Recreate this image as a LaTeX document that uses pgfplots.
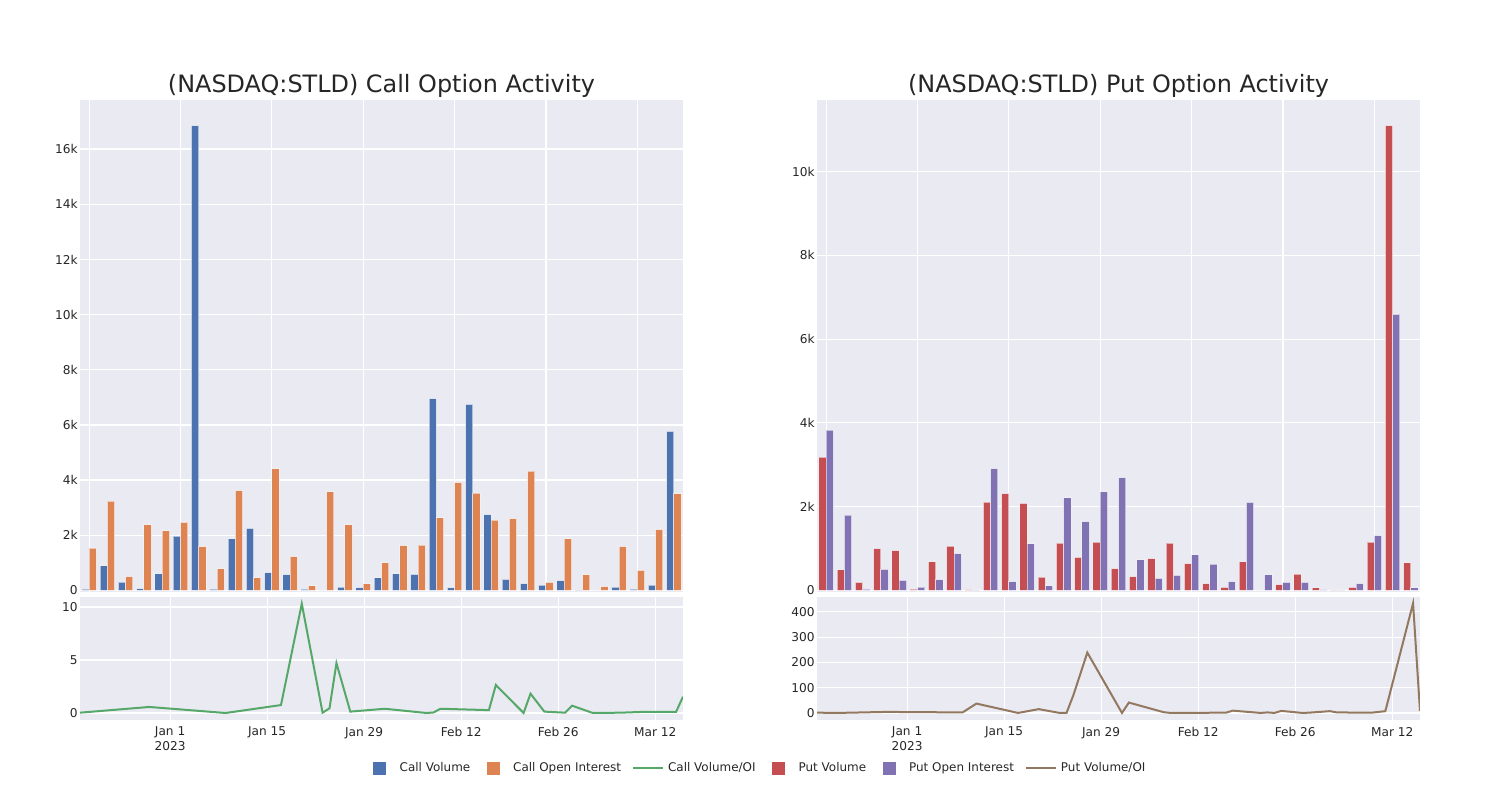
\documentclass[border=0pt]{standalone}
\usepackage{fontspec}
\setmainfont{DejaVu Sans}
\usepackage{pgfplots}
\pgfplotsset{compat=1.18}
\usepackage{pgfplotstable}

\definecolor{bgc}{HTML}{EAEAF2}
\definecolor{txt}{HTML}{262626}
\definecolor{cblue}{HTML}{4C72B0}
\definecolor{corange}{HTML}{DD8452}
\definecolor{cgreen}{HTML}{55A868}
\definecolor{cred}{HTML}{C44E52}
\definecolor{cpurple}{HTML}{8172B3}
\definecolor{cbrown}{HTML}{937860}

% bars: category index, volume, open interest
\pgfplotstableread{
cat vol oi
0 50 1530
1 890 3240
2 300 500
3 60 2380
4 600 2160
5 1970 2470
6 16850 1590
7 50 780
8 1870 3620
9 2250 450
10 640 4410
11 570 1220
12 50 160
13 0 3570
14 120 2380
15 100 240
16 450 1000
17 600 1620
18 580 1640
19 6950 2630
20 100 3910
21 6740 3530
22 2750 2550
23 400 2600
24 250 4320
25 190 290
26 350 1870
27 10 560
28 5 140
29 120 1590
30 50 730
31 190 2200
32 5770 3500
}\calldata

\pgfplotstableread{
cat vol oi
0 3180 3830
1 490 1800
2 190 30
3 1000 500
4 950 240
5 30 80
6 680 260
7 1060 880
8 20 10
9 2110 2910
10 2310 210
11 2080 1110
12 320 110
13 1130 2210
14 790 1640
15 1150 2350
16 520 2690
17 330 730
18 760 290
19 1130 360
20 640 850
21 160 630
22 70 210
23 680 2100
24 0 370
25 140 190
26 390 190
27 60 20
28 10 10
29 70 160
30 1150 1310
31 11100 6590
32 660 60
}\putdata

% ratio lines: days after Jan 1 2023, volume/OI
\pgfplotstableread{
day r
-13 0.03
-3 0.57
8 0
16 0.75
19 10.3
22 0.03
23 0.44
24 4.7
26 0.13
31 0.4
37 0
38 0.05
39 0.4
46 0.27
47 2.64
51 0
52 1.82
54 0.13
57 0.03
58 0.69
61 0
65 0.03
68 0.1
73 0.1
74 1.54
}\callratio

\pgfplotstableread{
day r
-13 1
-10 0
-3 4
8 2
10 37
16 0
19 15
22 0
23 0
24 71
26 239
31 0
32 41
37 3
38 0
46 1
47 9
51 0
52 2
53 0
54 8
57 0
58 1
61 7
62 2
67 1
69 7
73 434
74 8
}\putratio

\pgfplotsset{
  sea/.style={
    scale only axis, width=301.5bp,
    axis background/.style={fill=bgc},
    axis line style={draw=none},
    major tick length=0pt,
    grid=major, major grid style={white, line width=0.6bp},
    tick label style={font=\fontsize{6.1}{7.5}\selectfont, text=txt},
    yticklabel style={inner xsep=1bp},
    scaled y ticks=false,
    /pgf/number format/assume math mode=true,
    every axis title/.style={at={(0.5,1)}, anchor=base, yshift=3.7bp,
      font=\fontsize{12}{14}\selectfont, text=txt},
  },
  topbars/.style={sea, height=246bp, ybar=0pt, bar width=0.4,
    xmin=-0.5, xmax=32.5, xtick={0,5,...,30}, xticklabels={}},
  barstyle/.style={draw=white, draw opacity=0.55, line width=0.5bp},
  bottomline/.style={sea, height=61.5bp, xmin=-13, xmax=74,
    xtick={0,14,28,42,56,70},
    xticklabels={{Jan 1\\2023},Jan 15,Jan 29,Feb 12,Feb 26,Mar 12},
    xticklabel style={align=center}},
  sq/.style={legend image code/.code={
    \fill[#1] (3bp,-3bp) rectangle (9bp,3bp);
    \path[draw=none, fill=none] (0,0) -- (14bp,0);}},
  ln/.style={legend image code/.code={
    \draw[#1, line width=1bp] (0,0) -- (15bp,0);}},
}

\begin{document}
\begin{tikzpicture}
\useasboundingbox (0,0) rectangle (750bp,400bp);

% call bars
\begin{axis}[topbars, at={(40bp,104bp)}, anchor=south west,
  ymin=-58, ymax=17780, ytick={0,2000,...,16000},
  yticklabels={0,2k,4k,6k,8k,10k,12k,14k,16k},
  title={(NASDAQ:STLD) Call Option Activity}]
\addplot[barstyle, fill=cblue] table[x=cat, y=vol]{\calldata};
\addplot[barstyle, fill=corange] table[x=cat, y=oi]{\calldata};
\end{axis}

% call ratio
\begin{axis}[bottomline, at={(40bp,40bp)}, anchor=south west,
  ymin=-0.66, ymax=10.94, ytick={0,5,10}]
\addplot[cgreen, line width=1bp] table[x=day, y=r]{\callratio};
\end{axis}

% put bars
\begin{axis}[topbars, at={(408.5bp,104bp)}, anchor=south west,
  ymin=-38, ymax=11710, ytick={0,2000,...,10000},
  yticklabels={0,2k,4k,6k,8k,10k},
  title={(NASDAQ:STLD) Put Option Activity}]
\addplot[barstyle, fill=cred] table[x=cat, y=vol]{\putdata};
\addplot[barstyle, fill=cpurple] table[x=cat, y=oi]{\putdata};
\end{axis}

% put ratio
\begin{axis}[bottomline, at={(408.5bp,40bp)}, anchor=south west,
  ymin=-28, ymax=459, ytick={0,100,...,400}]
\addplot[cbrown, line width=1bp] table[x=day, y=r]{\putratio};
\end{axis}

% shared legend
\begin{axis}[at={(0,0)}, anchor=south west, scale only axis,
  width=750bp, height=400bp, hide axis, xmin=0, xmax=1, ymin=0, ymax=1,
  legend columns=6,
  legend style={at={(0.5057,0.04)}, anchor=center, draw=none, fill=none,
    font=\fontsize{6}{7}\selectfont, text=txt,
    nodes={text height=4.6bp, text depth=1.3bp},
    /tikz/every even column/.append style={column sep=3.5bp}}]
\addlegendimage{sq=cblue}
\addlegendentry{Call Volume}
\addlegendimage{sq=corange}
\addlegendentry{Call Open Interest}
\addlegendimage{ln=cgreen}
\addlegendentry{Call Volume/OI}
\addlegendimage{sq=cred}
\addlegendentry{Put Volume}
\addlegendimage{sq=cpurple}
\addlegendentry{Put Open Interest}
\addlegendimage{ln=cbrown}
\addlegendentry{Put Volume/OI}
\end{axis}
\end{tikzpicture}
\end{document}
